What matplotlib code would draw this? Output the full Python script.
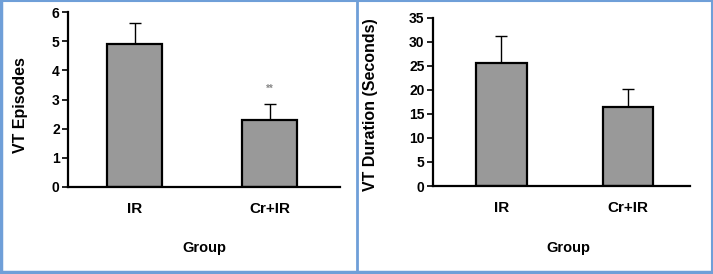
import matplotlib.pyplot as plt
from matplotlib.lines import Line2D

plt.rcParams['font.family'] = ['Liberation Sans', 'DejaVu Sans']
plt.rcParams['font.weight'] = 'bold'
plt.rcParams['axes.labelweight'] = 'bold'

groups = ['IR', 'Cr+IR']
episodes = [4.9, 2.3]
episodes_err = [0.72, 0.55]
duration = [25.5, 16.5]
duration_err = [5.7, 3.6]

fig = plt.figure(figsize=(7.13, 2.74), dpi=100)

def bar_panel(rect, vals, errs, xlim, width, ylim, yticks, ylabel, ylab_xy, xlab_xy):
  ax = fig.add_axes(rect)
  ax.bar(range(len(groups)), vals, width=width, color='#999999', edgecolor='black',
         linewidth=1.6, zorder=2)
  ax.errorbar(range(len(groups)), vals, yerr=[[0]*len(errs), errs], fmt='none',
              ecolor='black', elinewidth=1, capsize=4, capthick=1, zorder=1)
  ax.set_xlim(*xlim)
  ax.set_ylim(*ylim)
  ax.set_yticks(yticks)
  ax.set_xticks(range(len(groups)))
  ax.set_xticklabels(groups, fontsize=11)
  ax.tick_params(axis='x', length=0, pad=11)
  ax.tick_params(axis='y', length=4, width=1.2, labelsize=10, pad=2)
  for side in ['top', 'right']:
    ax.spines[side].set_visible(False)
  for side in ['left', 'bottom']:
    ax.spines[side].set_linewidth(1.6)
  ax.set_xlabel('Group', fontsize=10.5, va='center')
  ax.xaxis.set_label_coords(*xlab_xy)
  ax.set_ylabel(ylabel, fontsize=11.5, va='center')
  ax.yaxis.set_label_coords(*ylab_xy)
  return ax

ax1 = bar_panel([68/713, 87/274, 272/713, 175/274], episodes, episodes_err,
                (-0.493, 1.522), 0.41, (0, 6), range(0, 7), 'VT Episodes',
                (-0.176, 0.47), (0.5, -0.35))
ax1.text(1, 3.2, '**', ha='center', va='bottom', fontsize=7, color='#888888')

ax2 = bar_panel([433/713, 88/274, 257/713, 168.5/274], duration, duration_err,
                (-0.541, 1.490), 0.40, (0, 35), range(0, 36, 5), 'VT Duration (Seconds)',
                (-0.245, 0.48), (0.525, -0.37))

# light blue frame with divider
c = '#6f9fd8'
fig.add_artist(Line2D([0.002, 0.002], [0, 1], color=c, lw=2.5, transform=fig.transFigure))
fig.add_artist(Line2D([0, 1], [0.996, 0.996], color=c, lw=1.5, transform=fig.transFigure))
fig.add_artist(Line2D([0, 1], [0.006, 0.006], color=c, lw=2.5, transform=fig.transFigure))
fig.add_artist(Line2D([0.998, 0.998], [0, 1], color=c, lw=1.5, transform=fig.transFigure))
fig.add_artist(Line2D([356.5/713, 356.5/713], [0, 1], color=c, lw=2, transform=fig.transFigure))

fig.savefig('out.png', dpi=100)
